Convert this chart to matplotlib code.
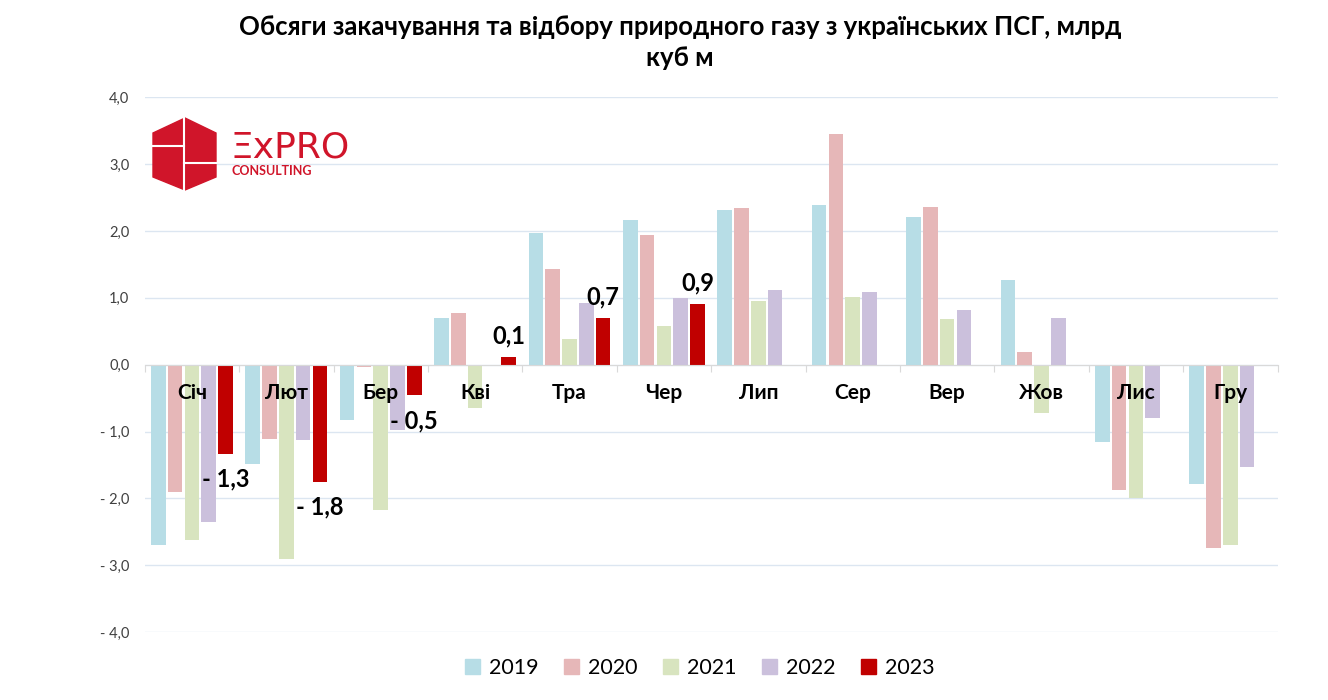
import numpy as np
import matplotlib
matplotlib.use("Agg")
import matplotlib.pyplot as plt
from matplotlib.patches import Polygon, Patch

plt.rcParams["font.family"] = ["Lato", "Open Sans", "DejaVu Sans"]

# Data (bcm)
months = ["Січ", "Лют", "Бер", "Кві", "Тра", "Чер", "Лип", "Сер", "Вер", "Жов", "Лис", "Гру"]
years = ["2019", "2020", "2021", "2022", "2023"]
v2019 = [-2.69, -1.49, -0.82, 0.70, 1.97, 2.17, 2.32, 2.39, 2.21, 1.26, -1.15, -1.78]
v2020 = [-1.91, -1.11, -0.04, 0.78, 1.43, 1.94, 2.35, 3.45, 2.36, 0.19, -1.87, -2.74]
v2021 = [-2.62, -2.90, -2.17, -0.65, 0.39, 0.58, 0.95, 1.02, 0.69, -0.72, -1.99, -2.69]
v2022 = [-2.36, -1.12, -0.97, 0.0, 0.93, 1.00, 1.12, 1.09, 0.82, 0.70, -0.79, -1.53]
v2023 = [-1.34, -1.76, -0.46, 0.12, 0.70, 0.91, np.nan, np.nan, np.nan, np.nan, np.nan, np.nan]
colors = ["#b7dde6", "#e6b7b8", "#d8e4bf", "#cbc0dc", "#c00000"]

series = [v2019, v2020, v2021, v2022, v2023]
x = np.arange(len(months))
step = 0.178
width = 0.155

fig = plt.figure(figsize=(13.28, 7.0), dpi=100)
ax = fig.add_axes([0.109, 0.097, 0.853, 0.764])

for j, (vals, c) in enumerate(zip(series, colors)):
    ax.bar(x + (j - 2) * step, vals, width=width, color=c, zorder=3)

# data labels for 2023
for i, v in enumerate(v2023):
    if np.isnan(v):
        continue
    txt = f"{abs(v):.1f}".replace(".", ",")
    if v < 0:
        txt = "- " + txt
        off = -18
    else:
        off = 15
    ax.annotate(txt, xy=(x[i] + 2 * step, v), xytext=(0, off), textcoords="offset points",
                ha="center", va="center", fontsize=17, fontweight="bold", color="#000000", zorder=4)

# month labels just under zero line
for i, m in enumerate(months):
    ax.text(x[i], -0.42, m, ha="center", va="center", fontsize=15, fontweight="bold", zorder=5)

ax.set_xlim(-0.5, len(months) - 0.5)
ax.set_ylim(-4, 4)
ax.set_yticks(np.arange(-4, 5, 1))


def fmt(v):
    s = f"{abs(v):.1f}".replace(".", ",")
    return "- " + s if v < 0 else s


ax.set_yticklabels([fmt(v) for v in np.arange(-4, 5, 1)], fontsize=10.5, color="#404040")
ax.tick_params(axis="y", length=0, pad=11)

ax.set_xticks(np.arange(-0.5, len(months) + 0.5, 1))
ax.set_xticklabels([])
ax.tick_params(axis="x", length=5, color="#d9d9d9", direction="out")
ax.spines["bottom"].set_position(("data", 0))
ax.spines["bottom"].set_color("#d9d9d9")
ax.spines["bottom"].set_zorder(4)
for s in ["top", "right", "left"]:
    ax.spines[s].set_visible(False)
ax.grid(axis="y", color="#dce6f1", linewidth=1, zorder=0)

fig.text(0.512, 0.962, "Обсяги закачування та відбору природного газу з українських ПСГ, млрд",
         ha="center", va="center", fontsize=18.5, fontweight="bold")
fig.text(0.512, 0.917, "куб м", ha="center", va="center", fontsize=18.5, fontweight="bold")

handles = [Patch(color=c) for c in colors]
fig.legend(handles, years, loc="center", bbox_to_anchor=(0.527, 0.046), ncol=5, frameon=False,
           fontsize=15.5, handlelength=0.7, handleheight=0.7, handletextpad=0.4, columnspacing=1.2)

# logo
lax = fig.add_axes([150 / 1328, 1 - 192 / 700, 205 / 1328, 77 / 700])
lax.set_xlim(0, 205)
lax.set_ylim(77, 0)
lax.axis("off")
red = "#d0152a"
hexagon = [(35, 3), (66, 18), (66, 62), (35, 75), (3, 62), (3, 18)]
lax.add_patch(Polygon(hexagon, closed=True, color=red))
lax.plot([34, 34], [3, 75], color="white", lw=1.5)
lax.plot([3, 34], [31, 31], color="white", lw=1.5)
lax.plot([34, 66], [48, 48], color="white", lw=1.5)
lax.text(81, 32, "ΞxPRO", fontsize=26, color=red, ha="left", va="center",
         family=["DejaVu Sans"])
lax.text(82, 56, "CONSULTING", fontsize=9, color=red, ha="left", va="center", fontweight="bold")

fig.savefig("out.png", dpi=100)
